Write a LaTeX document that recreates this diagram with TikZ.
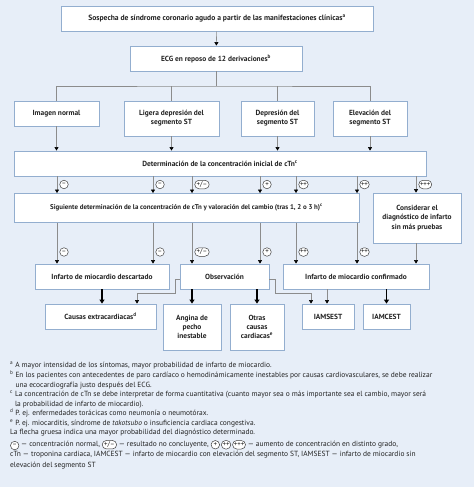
\documentclass[tikz,border=0pt]{standalone}
\usepackage{fontspec}
\setmainfont{PT Sans}
\usetikzlibrary{arrows.meta,shapes.misc}
\definecolor{bg}{HTML}{E7EEF8}
\definecolor{bx}{HTML}{93AECF}
\definecolor{ln}{HTML}{8C8C8C}
\definecolor{tx}{HTML}{222222}
\tikzset{
  pillst/.style={rounded rectangle,draw=black!75,line width=0.5pt,fill=white,
    inner xsep=0.8pt,inner ysep=0pt,minimum height=8.5pt,minimum width=9pt,
    font=\fontsize{6.9}{7}\selectfont,text=black!90},
}
\newcommand\pil[1]{\tikz[baseline=(pp.base)]\node[pillst](pp){#1};}
\begin{document}
\begin{tikzpicture}[x=1pt,y=-1pt,
  box/.style={draw=bx,line width=0.8pt,fill=white,inner sep=0pt,align=center,
    font=\fontsize{7.4}{9.2}\selectfont\bfseries,text=tx},
  conn/.style={draw=ln,line width=0.6pt,-{Triangle[width=4pt,length=3.5pt,color=black]}},
  plainln/.style={draw=ln,line width=0.6pt},
  thickarr/.style={draw=black,line width=1.3pt,-{Triangle[width=5pt,length=4pt]}},
  lbl/.style={pillst,anchor=west},
  fnote/.style={anchor=north west,align=left,inner sep=0pt,
    font=\fontsize{7.45}{9.6}\selectfont,text=tx},
]
\useasboundingbox (0,0) rectangle (474,487);
\fill[bg] (0,0) rectangle (474,487);

% boxes
\node[box,minimum width=312,minimum height=25,font=\fontsize{7.6}{9.2}\selectfont\bfseries] (top) at (217,18.5) {Sospecha de síndrome coronario agudo a partir de las manifestaciones clínicas\textsuperscript{a}};
\node[box,minimum width=172,minimum height=25] (ecg) at (216,58.5) {ECG en reposo de 12 derivaciones\textsuperscript{b}};
\node[box,minimum width=85,minimum height=25] (norm) at (56.5,113.5) {Imagen normal};
\node[box,minimum width=95,minimum height=35] (lig) at (171.5,118.5) {Ligera depresión del\\segmento ST};
\node[box,minimum width=73,minimum height=35] (dep) at (277.5,118.5) {Depresión del\\segmento ST};
\node[box,minimum width=74,minimum height=35] (elev) at (370,118.5) {Elevación del\\segmento ST};
\node[box,minimum width=412,minimum height=25] (det) at (220,163.5) {Determinación de la concentración inicial de cTn\textsuperscript{c}};
\node[box,minimum width=345,minimum height=29,font=\fontsize{6.9}{9}\selectfont\bfseries] (sig) at (186.5,208) {Siguiente determinación de la concentración de cTn y valoración del cambio (tras 1, 2 o 3 h)\textsuperscript{c}};
\node[box,minimum width=88,minimum height=50] (cons) at (417,218) {Considerar el\\diagnóstico de infarto\\sin más pruebas};
\node[box,minimum width=134,minimum height=25] (desc) at (102,276.5) {Infarto de miocardio descartado};
\node[box,minimum width=89,minimum height=25] (obs) at (224.5,276.5) {Observación};
\node[box,minimum width=146,minimum height=25] (conf) at (356,276.5) {Infarto de miocardio confirmado};
\node[box,minimum width=111,minimum height=25] (extra) at (100.5,316.5) {Causas extracardiacas\textsuperscript{d}};
\node[box,minimum width=58,minimum height=46] (ang) at (192,327) {Angina de\\pecho\\inestable};
\node[box,minimum width=54,minimum height=46] (otras) at (257,327) {Otras\\causas\\cardiacas\textsuperscript{e}};
\node[box,minimum width=52,minimum height=25] (sest) at (328,316.5) {IAMSEST};
\node[box,minimum width=47,minimum height=25] (cest) at (386.5,316.5) {IAMCEST};

% top connectors
\draw[conn] (top) -- (ecg);
\coordinate (br) at (216,86);
\draw[plainln] (ecg.south) -- (br);
\draw[plainln] (norm.north) |- (br) -| (elev.north);
\draw[plainln] (lig.north) -- (lig.north |- br);
\draw[plainln] (dep.north) -- (dep.north |- br);
\foreach \n in {norm,lig,dep,elev} \draw[conn] (\n.south) -- (\n.south |- det.north);

% det -> sig
\foreach \x/\t in {57/{–},153/{–},192/{+/–},260/{+},296/{++},357/{++}}{
  \draw[conn] (det.south -| \x,0) -- (sig.north -| \x,0);
  \node[lbl] at (\x+2.5,184.5) {\t};
}
\draw[conn] (det.south -| 416,0) -- (cons.north -| 416,0);
\node[lbl] at (418.5,184.5) {+++};

% sig -> row 6
\foreach \x/\t/\d in {57/{–}/desc,153/{–}/desc,192/{+/–}/obs,260/{+}/obs,296/{++}/conf,357/{++}/conf}{
  \draw[conn] (sig.south -| \x,0) -- (\d.north -| \x,0);
  \node[lbl] at (\x+2.5,252) {\t};
}
\draw[conn] (cons.south -| 416,0) -- (conf.north -| 416,0);

% row 6 -> row 7
\draw[thickarr] (desc.south) -- (desc.south |- extra.north);
\draw[thickarr] (obs.south -| ang.north) -- (ang.north);
\draw[thickarr] (obs.south -| otras.north) -- (otras.north);
\draw[thickarr] (conf.south -| cest.north) -- (cest.north);
\draw[conn] (obs.west |- 0,279) -- (175,279) -- (175,293) -- (137,293) -- (extra.north -| 137,0);
\draw[conn] (obs.east |- 0,279) -- (275,279) -- (275,293) -- (311,293) -- (sest.north -| 311,0);
\draw[conn] (conf.south -| 327,0) -- (sest.north -| 327,0);

% footnotes
\node[fnote] (fn) at (10,362) {\textsuperscript{a} A mayor intensidad de los síntomas, mayor probabilidad de infarto de miocardio.\\
\textsuperscript{b} En los pacientes con antecedentes de paro cardíaco o hemodinámicamente inestables por causas cardiovasculares, se debe realizar\\
\phantom{\textsuperscript{b} }una ecocardiografía justo después del ECG.\\
\textsuperscript{c} La concentración de cTn se debe interpretar de forma cuantitativa (cuanto mayor sea o más importante sea el cambio, mayor será\\
\phantom{\textsuperscript{c} }la probabilidad de infarto de miocardio).\\
\textsuperscript{d} P. ej. enfermedades torácicas como neumonía o neumotórax.\\
\textsuperscript{e} P. ej. miocarditis, síndrome de \textit{takotsubo} o insuficiencia cardiaca congestiva.};
\node[fnote] (flecha) at (10,429) {La flecha gruesa indica una mayor probabilidad del diagnóstico determinado.};
\node[fnote,font=\fontsize{7.45}{10.2}\selectfont] (leg) at (10,440) {\pil{–} — concentración normal, \pil{+/–} — resultado no concluyente, \pil{+}\,\pil{++}\,\pil{+++} — aumento de concentración en distinto grado,\\
cTn — troponina cardiaca, IAMCEST — infarto de miocardio con elevación del segmento ST, IAMSEST — infarto de miocardio sin\\
elevación del segmento ST};
\end{tikzpicture}
\end{document}
